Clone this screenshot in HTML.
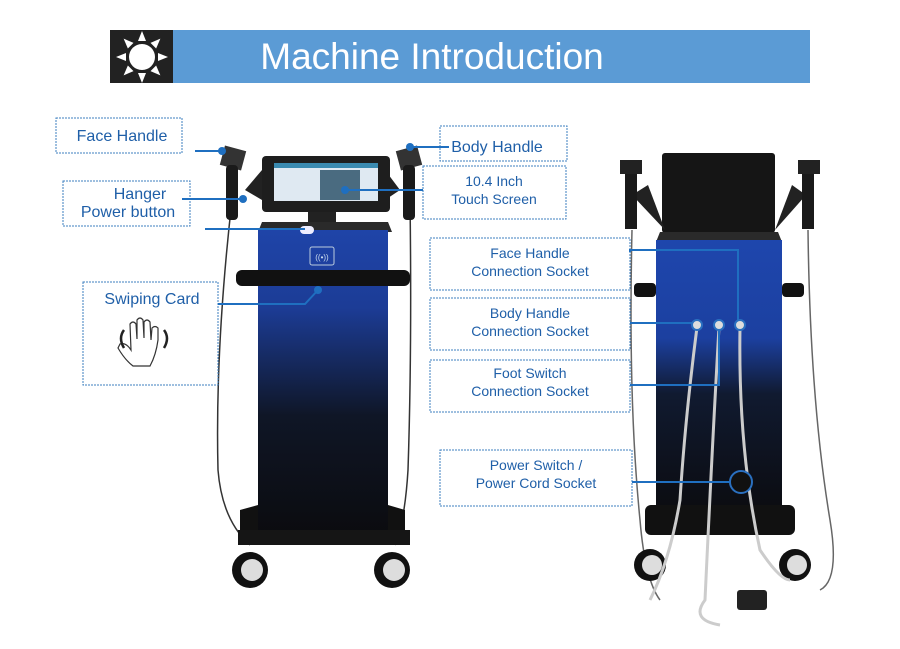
<!DOCTYPE html>
<html><head><meta charset="utf-8"><style>
body{margin:0;background:#fff;width:900px;height:644px;overflow:hidden;font-family:"Liberation Sans",sans-serif}
</style></head><body>
<svg width="900" height="644" viewBox="0 0 900 644" xmlns="http://www.w3.org/2000/svg" font-family="Liberation Sans, sans-serif">
<defs>
<linearGradient id="g1" x1="0" y1="0" x2="0" y2="1">
<stop offset="0" stop-color="#1f44a8"/><stop offset="0.25" stop-color="#1c3c96"/><stop offset="0.6" stop-color="#0f1626"/><stop offset="1" stop-color="#0b0b0e"/></linearGradient>
<linearGradient id="g2" x1="0" y1="0" x2="0" y2="1">
<stop offset="0" stop-color="#1e46ad"/><stop offset="0.35" stop-color="#1c40a0"/><stop offset="0.55" stop-color="#101a30"/><stop offset="1" stop-color="#0b0b0e"/></linearGradient>
</defs>
<rect x="110" y="30" width="63" height="53" fill="#222"/>
<rect x="173" y="30" width="637" height="53" fill="#5b9bd5"/>
<text x="432" y="69" font-size="37" fill="#fff" text-anchor="middle">Machine Introduction</text>
<g fill="#fff" transform="translate(142,57)">
<circle r="13"/>
<g id="t"><polygon points="-4,-16 4,-16 0,-26"/></g>
<use href="#t" transform="rotate(45)"/><use href="#t" transform="rotate(90)"/><use href="#t" transform="rotate(135)"/>
<use href="#t" transform="rotate(180)"/><use href="#t" transform="rotate(225)"/><use href="#t" transform="rotate(270)"/><use href="#t" transform="rotate(315)"/>
</g>

<path d="M232 200 Q215 350 218 470 Q222 520 250 545" stroke="#333" stroke-width="1.5" fill="none"/>
<path d="M410 200 Q412 350 408 470 Q405 520 395 545" stroke="#333" stroke-width="1.5" fill="none"/>
<polygon points="245,190 262,170 262,200" fill="#222"/>
<polygon points="400,190 385,170 385,200" fill="#222"/>
<rect x="222" y="148" width="22" height="20" fill="#333" transform="rotate(15 233 158)"/>
<rect x="226" y="165" width="12" height="55" rx="4" fill="#1a1a1a"/>
<rect x="398" y="148" width="22" height="20" fill="#333" transform="rotate(-15 409 158)"/>
<rect x="403" y="165" width="12" height="55" rx="4" fill="#1a1a1a"/>
<rect x="262" y="156" width="128" height="56" rx="4" fill="#1e1e1e"/>
<rect x="274" y="163" width="104" height="38" fill="#dfe9f2"/>
<rect x="274" y="163" width="104" height="5" fill="#3a8ab0"/>
<rect x="320" y="170" width="40" height="30" fill="#4a6b80"/>
<rect x="308" y="212" width="28" height="10" fill="#222"/>
<polygon points="262,222 388,222 392,232 258,232" fill="#2a2a2a"/>
<rect x="258" y="230" width="130" height="310" fill="url(#g1)"/>
<rect x="310" y="247" width="24" height="18" rx="2" fill="none" stroke="#bcd" stroke-width="1"/>
<text x="322" y="260" font-size="8" fill="#cde" text-anchor="middle">((•))</text>
<rect x="236" y="270" width="174" height="16" rx="6" fill="#111"/>
<rect x="300" y="226" width="14" height="8" rx="4" fill="#eef"/>
<path d="M240 510 L258 505 L258 540 L240 545 Z M405 510 L388 505 L388 540 L405 545Z" fill="#111"/>
<rect x="238" y="530" width="172" height="15" fill="#151515"/>
<g fill="#111"><circle cx="250" cy="570" r="18"/><circle cx="392" cy="570" r="18"/></g>
<g fill="#ddd"><circle cx="252" cy="570" r="11"/><circle cx="394" cy="570" r="11"/></g>

<path d="M632 230 Q628 400 640 520 Q645 580 660 600" stroke="#666" stroke-width="1.5" fill="none"/>
<path d="M808 230 Q810 400 830 520 Q840 580 820 590" stroke="#666" stroke-width="1.5" fill="none"/>
<rect x="662" y="153" width="113" height="80" rx="3" fill="#151515"/>
<polygon points="632,195 648,185 665,230" fill="#222"/>
<polygon points="806,195 792,185 775,230" fill="#222"/>
<rect x="620" y="160" width="22" height="14" fill="#222"/><rect x="625" y="174" width="12" height="55" fill="#1a1a1a"/>
<rect x="798" y="160" width="22" height="14" fill="#222"/><rect x="802" y="174" width="12" height="55" fill="#1a1a1a"/>
<polygon points="660,232 778,232 782,242 656,242" fill="#2a2a2a"/>
<rect x="656" y="240" width="126" height="280" fill="url(#g2)"/>
<rect x="634" y="283" width="22" height="14" rx="4" fill="#111"/><rect x="782" y="283" width="22" height="14" rx="4" fill="#111"/>
<rect x="645" y="505" width="150" height="30" rx="6" fill="#111"/>
<g fill="#111"><circle cx="650" cy="565" r="16"/><circle cx="795" cy="565" r="16"/></g>
<g fill="#ddd"><circle cx="652" cy="565" r="10"/><circle cx="797" cy="565" r="10"/></g>
<g stroke="#ccc" stroke-width="3" fill="none">
<path d="M697 327 Q685 420 680 500 Q670 560 650 600"/>
<path d="M719 327 Q712 450 705 600 Q690 620 720 625"/>
<path d="M740 327 Q738 450 760 550 Q780 580 790 580"/>
</g>
<rect x="737" y="590" width="30" height="20" rx="3" fill="#222"/>
<circle cx="741" cy="482" r="11" fill="#111" stroke="#2a70c0" stroke-width="2"/>

<g fill="none" stroke="#3d7fbf" stroke-width="1" stroke-dasharray="2,1">
<rect x="56" y="118" width="126" height="35"/>
<rect x="63" y="181" width="127" height="45"/>
<rect x="83" y="282" width="135" height="103"/>
<rect x="440" y="126" width="127" height="35"/>
<rect x="423" y="166" width="143" height="53"/>
<rect x="430" y="238" width="200" height="52"/>
<rect x="430" y="298" width="200" height="52"/>
<rect x="430" y="360" width="200" height="52"/>
<rect x="440" y="450" width="192" height="56"/>
</g>
<g fill="#1f5fa8" text-anchor="middle">
<text x="122" y="141" font-size="16">Face Handle</text>
<text x="140" y="199" font-size="16">Hanger</text>
<text x="128" y="217" font-size="16">Power button</text>
<text x="152" y="304" font-size="16">Swiping Card</text>
<text x="497" y="152" font-size="16">Body Handle</text>
<text x="494" y="186" font-size="14">10.4 Inch</text>
<text x="494" y="204" font-size="14">Touch Screen</text>
<text x="530" y="258" font-size="14">Face Handle</text>
<text x="530" y="276" font-size="14">Connection Socket</text>
<text x="530" y="318" font-size="14">Body Handle</text>
<text x="530" y="336" font-size="14">Connection Socket</text>
<text x="530" y="378" font-size="14">Foot Switch</text>
<text x="530" y="396" font-size="14">Connection Socket</text>
<text x="536" y="470" font-size="14">Power Switch /</text>
<text x="536" y="488" font-size="14">Power Cord Socket</text>
</g>
<g fill="#fff" stroke="#333" stroke-width="1.2">
<path d="M118 348 Q125 360 133 366 L150 366 Q156 355 158 340 L158 328 Q155 325 152 328 L151 340 L150 322 Q147 318 144 322 L144 338 L143 320 Q140 316 137 320 L137 339 L136 324 Q133 320 130 324 L131 350 Q126 342 120 344 Z"/>
</g>
<g fill="none" stroke="#222" stroke-width="2.5">
<path d="M124 330 Q118 338 124 348"/><path d="M164 330 Q170 338 164 348"/>
</g>
<g stroke="#1f6fc0" stroke-width="2" fill="none">
<path d="M195 151 H222"/><path d="M182 199 H243"/><path d="M205 229 H305"/>
<path d="M218 304 H305 L318 290"/><path d="M449 147 H410"/><path d="M423 190 H345"/>
<path d="M630 252 V250 H738 V322"/><path d="M630 323 H692"/><path d="M630 385 H719 V330"/><path d="M632 482 H730"/>
</g>
<g fill="#1f6fc0"><circle cx="222" cy="151" r="4"/><circle cx="243" cy="199" r="4"/><circle cx="318" cy="290" r="4"/><circle cx="410" cy="147" r="4"/><circle cx="345" cy="190" r="4"/></g>
<g fill="#ddd" stroke="#2a70c0" stroke-width="2"><circle cx="697" cy="325" r="5"/><circle cx="719" cy="325" r="5"/><circle cx="740" cy="325" r="5"/></g>
</svg>
</body></html>
